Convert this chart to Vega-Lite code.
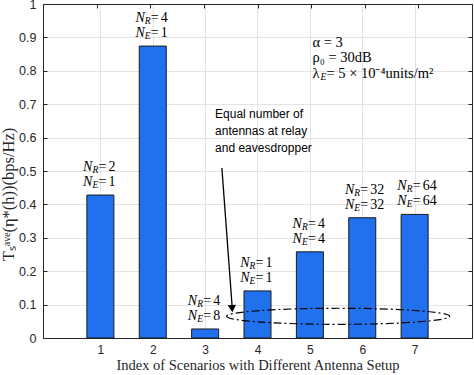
{
  "$schema": "https://vega.github.io/schema/vega-lite/v6.json",
  "autosize": {"type": "none"},
  "width": 429,
  "height": 334,
  "padding": {"left": 43, "top": 4, "right": 2, "bottom": 37},
  "config": {
    "view": {"stroke": null},
    "axis": {
      "domainColor": "#262626",
      "tickColor": "#262626",
      "labelColor": "#262626",
      "titleColor": "#262626",
      "labelFont": "Liberation Sans",
      "labelFontSize": 12,
      "titleFont": "Liberation Serif",
      "titleFontSize": 14.5,
      "titleFontWeight": "normal",
      "gridColor": "#e3e3e3",
      "gridWidth": 1,
      "tickSize": -4,
      "domainWidth": 1,
      "labelOverlap": false
    }
  },
  "datasets": {
    "bars": [
      {"scenario": 1, "value": 0.428, "nr": "2", "ne": "1"},
      {"scenario": 2, "value": 0.874, "nr": "4", "ne": "1"},
      {"scenario": 3, "value": 0.027, "nr": "4", "ne": "8"},
      {"scenario": 4, "value": 0.141, "nr": "1", "ne": "1"},
      {"scenario": 5, "value": 0.258, "nr": "4", "ne": "4"},
      {"scenario": 6, "value": 0.360, "nr": "32", "ne": "32"},
      {"scenario": 7, "value": 0.370, "nr": "64", "ne": "64"}
    ],
    "note": [{"x": 3.19, "y": 0.686, "label": "Equal number of\nantennas at relay\nand eavesdropper"}],
    "arrow": [{"x": 3.32, "y": 0.509, "x2": 3.52, "y2": 0.085}],
    "arrowhead": [{"x": 3.515, "y": 0.088}],
    "ellipse": [{"x": 5.54, "y": 0.065}],
    "params": [
      {"x": 5.05, "y": 0.884, "label": "α = 3"},
      {"x": 5.05, "y": 0.837, "label": "ρ₀ = 30dB"}
    ],
    "lambda": [{"x": 5.05, "y": 0.790, "rest": " = 5 × 10⁻⁴units/m²"}]
  },
  "layer": [
    {
      "layer": [
        {
          "data": {"name": "bars"},
          "mark": {"type": "bar", "size": 27, "color": "#2171ee", "stroke": "#1a1a1a", "strokeWidth": 1},
          "encoding": {
            "x": {
              "field": "scenario", "type": "quantitative",
              "scale": {"domain": [0, 8], "nice": false, "zero": false},
              "axis": {"values": [1, 2, 3, 4, 5, 6, 7], "tickCount": 8, "grid": true, "title": "Index of Scenarios with Different Antenna Setup", "labelPadding": 10, "titlePadding": 3}
            },
            "y": {
              "field": "value", "type": "quantitative",
              "scale": {"domain": [0, 1], "nice": false},
              "axis": {"values": [0, 0.1, 0.2, 0.3, 0.4, 0.5, 0.6, 0.7, 0.8, 0.9, 1], "tickCount": 11, "format": ".1~f", "labelFontSize": 12.5, "grid": true, "title": "Tₛᵃᵛᵉ(η*(h))(bps/Hz)", "titleFontSize": 16.5, "titleY": 190, "labelPadding": 11, "titlePadding": 2}
            }
          }
        },
        {
          "data": {"name": "bars"},
          "mark": {"type": "text", "text": "N", "font": "Liberation Serif", "fontStyle": "italic", "fontSize": 14, "align": "right", "baseline": "middle", "dx": -8, "dy": -28, "color": "#000"},
          "encoding": {"x": {"field": "scenario", "type": "quantitative"}, "y": {"field": "value", "type": "quantitative"}}
        },
        {
          "data": {"name": "bars"},
          "mark": {"type": "text", "text": "N", "font": "Liberation Serif", "fontStyle": "italic", "fontSize": 14, "align": "right", "baseline": "middle", "dx": -8, "dy": -13, "color": "#000"},
          "encoding": {"x": {"field": "scenario", "type": "quantitative"}, "y": {"field": "value", "type": "quantitative"}}
        },
        {
          "data": {"name": "bars"},
          "mark": {"type": "text", "text": "R", "font": "Liberation Serif", "fontStyle": "italic", "fontSize": 9.5, "align": "left", "baseline": "middle", "dx": -8, "dy": -25, "color": "#000"},
          "encoding": {"x": {"field": "scenario", "type": "quantitative"}, "y": {"field": "value", "type": "quantitative"}}
        },
        {
          "data": {"name": "bars"},
          "mark": {"type": "text", "text": "E", "font": "Liberation Serif", "fontStyle": "italic", "fontSize": 9.5, "align": "left", "baseline": "middle", "dx": -8, "dy": -10, "color": "#000"},
          "encoding": {"x": {"field": "scenario", "type": "quantitative"}, "y": {"field": "value", "type": "quantitative"}}
        },
        {
          "data": {"name": "bars"},
          "mark": {"type": "text", "text": "=", "font": "Liberation Serif", "fontSize": 14, "align": "left", "baseline": "middle", "dx": -2, "dy": -28, "color": "#000"},
          "encoding": {"x": {"field": "scenario", "type": "quantitative"}, "y": {"field": "value", "type": "quantitative"}}
        },
        {
          "data": {"name": "bars"},
          "mark": {"type": "text", "text": "=", "font": "Liberation Serif", "fontSize": 14, "align": "left", "baseline": "middle", "dx": -2, "dy": -13, "color": "#000"},
          "encoding": {"x": {"field": "scenario", "type": "quantitative"}, "y": {"field": "value", "type": "quantitative"}}
        },
        {
          "data": {"name": "bars"},
          "mark": {"type": "text", "font": "Liberation Serif", "fontSize": 14, "align": "left", "baseline": "middle", "dx": 8, "dy": -28, "color": "#000"},
          "encoding": {"x": {"field": "scenario", "type": "quantitative"}, "y": {"field": "value", "type": "quantitative"}, "text": {"field": "nr"}}
        },
        {
          "data": {"name": "bars"},
          "mark": {"type": "text", "font": "Liberation Serif", "fontSize": 14, "align": "left", "baseline": "middle", "dx": 8, "dy": -13, "color": "#000"},
          "encoding": {"x": {"field": "scenario", "type": "quantitative"}, "y": {"field": "value", "type": "quantitative"}, "text": {"field": "ne"}}
        },
        {
          "data": {"name": "note"},
          "mark": {"type": "text", "font": "Liberation Sans", "fontSize": 12, "align": "left", "baseline": "top", "lineBreak": "\n", "lineHeight": 17, "color": "#000"},
          "encoding": {"x": {"field": "x", "type": "quantitative"}, "y": {"field": "y", "type": "quantitative"}, "text": {"field": "label"}}
        },
        {
          "data": {"name": "arrow"},
          "mark": {"type": "rule", "color": "#000", "strokeWidth": 1.3},
          "encoding": {"x": {"field": "x", "type": "quantitative"}, "y": {"field": "y", "type": "quantitative"}, "x2": {"field": "x2"}, "y2": {"field": "y2"}}
        },
        {
          "data": {"name": "arrowhead"},
          "mark": {"type": "point", "shape": "triangle-down", "size": 70, "filled": true, "color": "#000", "opacity": 1, "angle": -4},
          "encoding": {"x": {"field": "x", "type": "quantitative"}, "y": {"field": "y", "type": "quantitative"}}
        },
        {
          "data": {"name": "ellipse"},
          "mark": {"type": "point", "shape": "M-1,0A1,0.072 0 1,0 1,0A1,0.072 0 1,0 -1,0Z", "size": 49729, "filled": false, "stroke": "#000", "strokeWidth": 1.2, "strokeDash": [8, 3, 2, 3], "opacity": 1},
          "encoding": {"x": {"field": "x", "type": "quantitative"}, "y": {"field": "y", "type": "quantitative"}}
        },
        {
          "data": {"name": "params"},
          "mark": {"type": "text", "font": "Liberation Serif", "fontSize": 14.5, "align": "left", "baseline": "middle", "color": "#000"},
          "encoding": {"x": {"field": "x", "type": "quantitative"}, "y": {"field": "y", "type": "quantitative"}, "text": {"field": "label"}}
        },
        {
          "data": {"name": "lambda"},
          "mark": {"type": "text", "text": "λ", "font": "Liberation Serif", "fontSize": 14.5, "align": "left", "baseline": "middle", "color": "#000"},
          "encoding": {"x": {"field": "x", "type": "quantitative"}, "y": {"field": "y", "type": "quantitative"}}
        },
        {
          "data": {"name": "lambda"},
          "mark": {"type": "text", "text": "E", "font": "Liberation Serif", "fontStyle": "italic", "fontSize": 9.5, "align": "left", "baseline": "middle", "dx": 8, "dy": 3, "color": "#000"},
          "encoding": {"x": {"field": "x", "type": "quantitative"}, "y": {"field": "y", "type": "quantitative"}}
        },
        {
          "data": {"name": "lambda"},
          "mark": {"type": "text", "font": "Liberation Serif", "fontSize": 14.5, "align": "left", "baseline": "middle", "dx": 14, "color": "#000"},
          "encoding": {"x": {"field": "x", "type": "quantitative"}, "y": {"field": "y", "type": "quantitative"}, "text": {"field": "rest"}}
        }
      ]
    },
    {
      "data": {"name": "bars"},
      "mark": {"type": "point", "opacity": 0},
      "encoding": {
        "x": {
          "field": "scenario", "type": "quantitative",
          "scale": {"domain": [0, 8], "nice": false, "zero": false},
          "axis": {"orient": "top", "values": [1, 2, 3, 4, 5, 6, 7], "tickCount": 8, "labels": false, "grid": false, "title": null}
        },
        "y": {
          "field": "value", "type": "quantitative",
          "scale": {"domain": [0, 1], "nice": false},
          "axis": {"orient": "right", "values": [0, 0.1, 0.2, 0.3, 0.4, 0.5, 0.6, 0.7, 0.8, 0.9, 1], "tickCount": 11, "labels": false, "grid": false, "title": null}
        }
      }
    }
  ],
  "resolve": {"scale": {"x": "independent", "y": "independent"}}
}
